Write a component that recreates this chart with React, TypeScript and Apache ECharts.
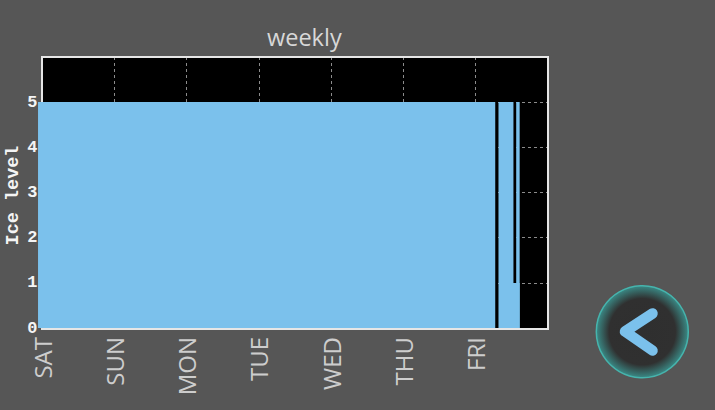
import React, { useEffect, useRef } from "react";
import * as echarts from "echarts";

const dayLabels = ["SAT", "SUN", "MON", "TUE", "WED", "THU", "FRI", ""];
// Ice-level segments, x in days since Saturday: [start, end, level]
const segStart = [-0.055, 6.315, 6.315, 6.56];
const segEnd = [6.27, 6.522, 6.608, 6.608];
const segBase = [0, 1, 0, 0];
const segLevel = [5, 5, 1, 5];
const chartTitle = "weekly";
const yName = "Ice level";

const BLUE = "#7bc1ec";

export default function App() {
  const ref = useRef<HTMLDivElement>(null);
  useEffect(() => {
    const chart = echarts.init(ref.current!, null, { renderer: "svg" });
    const grid = { left: 42, top: 57, width: 506, height: 271 };
    chart.setOption({
      animation: false,
      backgroundColor: "#565656",
      title: {
        text: chartTitle,
        left: 267,
        top: 25,
        padding: 0,
        textStyle: { color: "#d8d8d8", fontFamily: "Open Sans", fontSize: 23.5, fontWeight: "normal" },
      },
      grid: { ...grid, outerBoundsMode: "none", show: true, backgroundColor: "#000", borderWidth: 0 },
      xAxis: {
        type: "value",
        min: 0,
        max: 7,
        interval: 1,
        axisLine: { show: false },
        axisTick: { show: true, inside: true, length: 3, lineStyle: { color: "#bbb" } },
        splitLine: { show: true, showMinLine: false, showMaxLine: false, lineStyle: { color: "#8c8c8c", type: [3, 3], width: 1 } },
        axisLabel: {
          rotate: 90,
          margin: 9,
          color: "#cdcdcd",
          fontFamily: "Open Sans",
          fontSize: 24,
          showMaxLabel: false,
          formatter: (v: number) => dayLabels[v] ?? "",
        },
      },
      yAxis: {
        type: "value",
        min: 0,
        max: 6,
        interval: 1,
        name: yName,
        nameLocation: "middle",
        nameGap: 19,
        nameMoveOverlap: false,
        nameRotate: 90,
        nameTextStyle: { color: "#f4f4f4", fontFamily: "Liberation Mono", fontWeight: "bold", fontSize: 18.5, padding: [0, 6, 0, 0] },
        axisLine: { show: false },
        axisTick: { show: false },
        splitLine: { show: true, showMinLine: false, showMaxLine: false, lineStyle: { color: "#8c8c8c", type: [3, 3], width: 1 } },
        axisLabel: {
          margin: 4.5,
          color: "#f4f4f4",
          fontFamily: "Liberation Mono",
          fontWeight: "bold",
          fontSize: 17,
          formatter: (v: number) => (v <= 5 ? String(v) : ""),
        },
      },
      series: [
        {
          type: "custom",
          clip: false,
          silent: true,
          data: segStart.map((s, i) => [s, segEnd[i], segBase[i], segLevel[i]]),
          encode: { x: [0, 1], y: [2, 3] },
          renderItem: (_p: any, api: any) => {
            const a = api.coord([api.value(0), api.value(3)]);
            const b = api.coord([api.value(1), api.value(2)]);
            const top = Math.round(a[1]);
            const bottom = Math.round(b[1]);
            return {
              type: "rect",
              shape: { x: a[0], y: top, width: b[0] - a[0], height: bottom - top },
              style: { fill: BLUE },
            };
          },
        },
      ],
      graphic: [
        {
          type: "rect",
          z: 1,
          silent: true,
          shape: { x: 42, y: 328, width: 506, height: 1 },
          style: { fill: "#000" },
        },
        {
          type: "rect",
          z: 1,
          silent: true,
          shape: { x: 42, y: 57, width: 506, height: 272 },
          style: { fill: "none", stroke: "#e6e6e6", lineWidth: 2 },
        },
        {
          type: "circle",
          shape: { cx: 642.3, cy: 331.7, r: 46 },
          style: {
            stroke: "#46b4ad",
            lineWidth: 1.5,
            fill: {
              type: "radial",
              x: 0.5,
              y: 0.5,
              r: 0.5,
              colorStops: [
                { offset: 0, color: "#2f2f2f" },
                { offset: 0.72, color: "#303030" },
                { offset: 1, color: "#3a8a86" },
              ],
            },
          },
        },
        {
          type: "polyline",
          shape: { points: [[652.5, 313.5], [625, 331.5], [652.5, 350.5]] },
          style: { stroke: BLUE, lineWidth: 10.5, lineCap: "round", lineJoin: "round", fill: "none" },
        },
      ],
    });
    return () => chart.dispose();
  }, []);
  return <div ref={ref} style={{ position: "fixed", left: 0, top: 0, width: 715, height: 410 }} />;
}
